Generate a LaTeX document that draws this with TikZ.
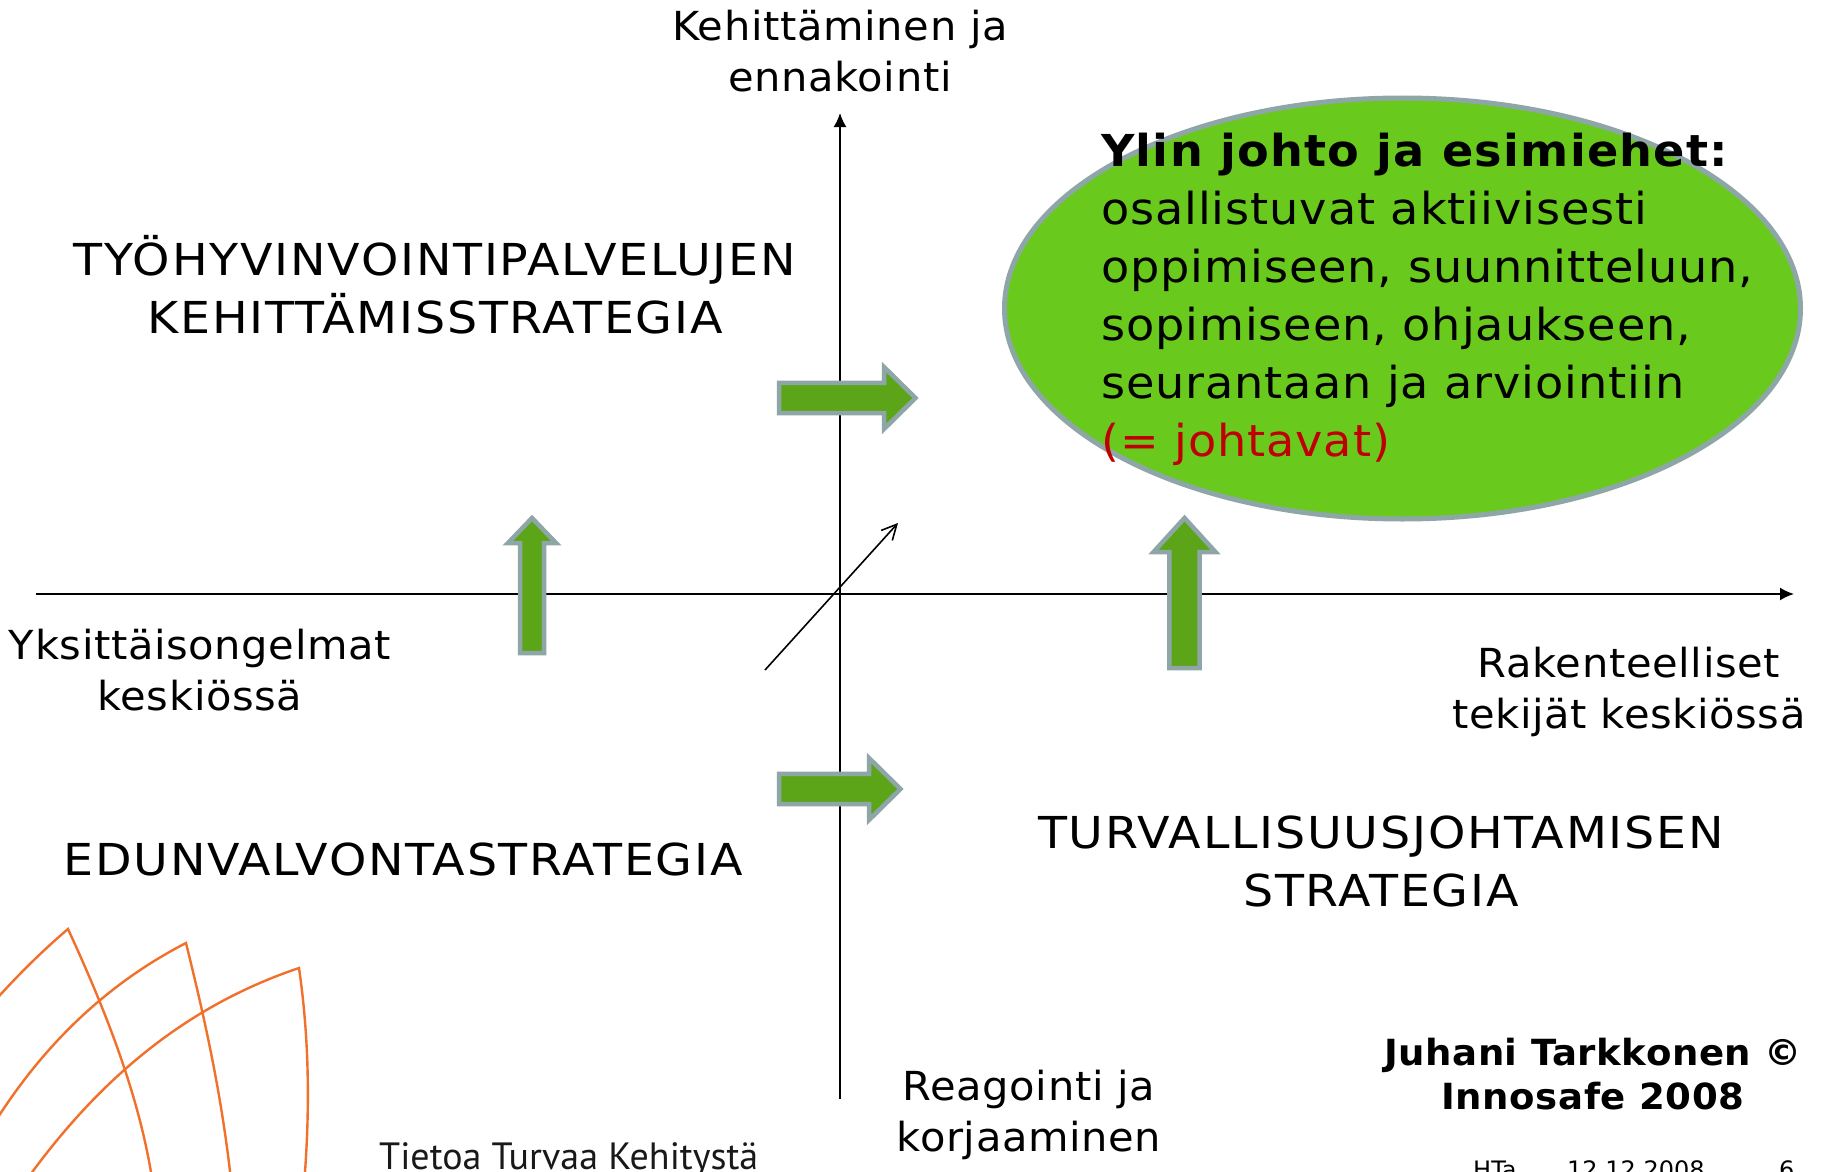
\documentclass[tikz,border=0pt]{standalone}
\usepackage{fontspec}
\setmainfont{DejaVu Sans}
\newfontfamily\logofont{PT Sans}
\usetikzlibrary{arrows.meta,shapes.geometric}
\definecolor{ellfill}{HTML}{69CA1D}
\definecolor{arrfill}{HTML}{5CA519}
\definecolor{arrline}{HTML}{8FA6A9}
\definecolor{arcline}{HTML}{F0702C}
\definecolor{redtext}{HTML}{C00000}
\tikzset{
  axisline/.style={line width=1.8pt,-{Latex[length=14pt,width=13pt]}},
  thinarrow/.style={line width=1.6pt,-{Straight Barb[length=15pt,width=15pt,line width=1.6pt]}},
  blockarrow/.style={draw=arrline,fill=arrfill,line width=4.5pt,miter limit=10},
  arcstroke/.style={draw=arcline,line width=2.4pt},
  big/.style={font=\fontsize{44}{58}\selectfont\addfontfeature{FakeStretch=1.05,LetterSpace=2},align=center,inner sep=0pt},
  caps/.style={font=\fontsize{44}{58}\selectfont\addfontfeature{FakeStretch=1.08,LetterSpace=4},align=center,inner sep=0pt},
  mid/.style={font=\fontsize{40}{51}\selectfont\addfontfeature{FakeStretch=1.04,LetterSpace=1.6},align=center,inner sep=0pt},
  credit/.style={font=\fontsize{36}{44}\selectfont\bfseries\addfontfeature{FakeStretch=1.03,LetterSpace=1.6},align=center,inner sep=0pt},
  foot/.style={font=\fontsize{24}{26}\selectfont,inner sep=0pt,anchor=base west},
}
% right arrow: x-start, y-centre, head-base x, tip x, shaft half, head half
\newcommand{\rarrow}[6]{\draw[blockarrow] (#1,#2-#5) -- (#3,#2-#5) -- (#3,#2-#6) -- (#4,#2) -- (#3,#2+#6) -- (#3,#2+#5) -- (#1,#2+#5) -- cycle;}
% up arrow: x-centre, y-bottom, head-base y, tip y, shaft half, head half
\newcommand{\uarrow}[6]{\draw[blockarrow] (#1-#5,#2) -- (#1-#5,#3) -- (#1-#6,#3) -- (#1,#4) -- (#1+#6,#3) -- (#1+#5,#3) -- (#1+#5,#2) -- cycle;}
\begin{document}
\begin{tikzpicture}[x=1pt,y=-1pt]
\useasboundingbox (0,0) rectangle (1824,1172);
\fill[white] (0,0) rectangle (1824,1172);
% axes
\coordinate (hL) at (36,594);
\coordinate (hR) at (1794,594);
\coordinate (vB) at (840,1099);
\coordinate (vT) at (840,113);
\coordinate (dS) at (765,670);
\coordinate (dE) at (898,523);
\draw[axisline] (hL) -- (hR);
\draw[axisline] (vB) -- (vT);
\draw[thinarrow] (dS) -- (dE);
% logo arcs
\draw[arcstroke] (-10,1006) .. controls (18,975) and (40,953) .. (68,929) .. controls (103,1005) and (140,1095) .. (153,1185);
\draw[arcstroke] (-10,1130) .. controls (48,1035) and (118,978) .. (186,943) .. controls (200,1000) and (222,1090) .. (232,1190);
\draw[arcstroke] (25,1182) .. controls (105,1070) and (195,1003) .. (299,968) .. controls (308,1030) and (311,1100) .. (304,1185);
% block arrows
\rarrow{779}{398}{884}{915.5}{15.2}{31}
\rarrow{779}{789}{869}{900.5}{15.2}{31}
\uarrow{532}{653}{543}{518}{12}{24}
\uarrow{1184.5}{668}{552}{518}{15.2}{31}
% ellipse
\node[ellipse,draw=arrline,fill=ellfill,line width=5pt,minimum width=796pt,minimum height=421pt,inner sep=0pt] (ell) at (1402.5,308.5) {};
\node[big,align=left,anchor=west] (elltext) at (1101,299) {\textbf{\addfontfeature{LetterSpace=2.8}Ylin johto ja esimiehet:}\\osallistuvat aktiivisesti\\oppimiseen, suunnitteluun,\\sopimiseen, ohjaukseen,\\seurantaan ja arviointiin\\\textcolor{redtext}{(= johtavat)}};
% labels
\node[mid] (top) at (840,51.5) {Kehittäminen ja\\ennakointi};
\node[mid] (left) at (200,670) {Yksittäisongelmat\\keskiössä};
\node[mid] (right) at (1629,692) {Rakenteelliset\\tekijät keskiössä};
\node[mid] (bottom) at (1029,1115) {Reagointi ja\\korjaaminen};
\node[caps] (q1) at (435,284.5) {TYÖHYVINVOINTIPALVELUJEN\\KEHITTÄMISSTRATEGIA};
\node[caps] (q2) at (403,859) {EDUNVALVONTASTRATEGIA};
\node[caps] (q3) at (1381,861) {TURVALLISUUSJOHTAMISEN\\STRATEGIA};
\node[credit] (cred) at (1593,1074) {Juhani Tarkkonen ©\\Innosafe 2008};
\node[foot] (f1) at (1473,1178) {HTa};
\node[foot] (f2) at (1567,1178) {12.12.2008};
\node[foot] (f3) at (1779,1178) {6};
\node[inner sep=0pt,anchor=base west,text=black!90,font=\logofont\fontsize{38}{38}\selectfont] (logo) at (379,1169) {Tietoa Turvaa Kehitystä};
\end{tikzpicture}
\end{document}
